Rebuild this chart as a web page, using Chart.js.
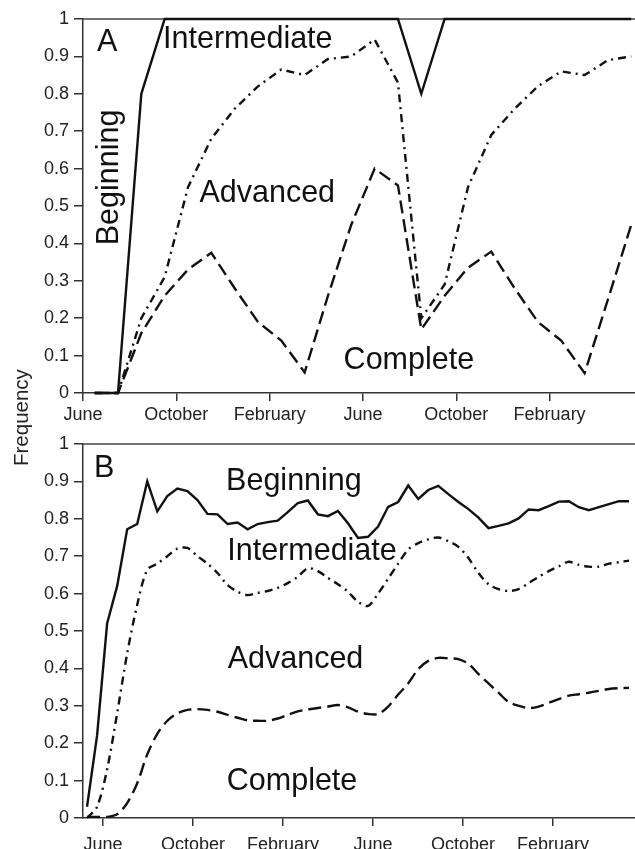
<!DOCTYPE html>
<html>
<head>
<meta charset="utf-8">
<script src="https://cdn.jsdelivr.net/npm/chart.js@4.4.0/dist/chart.umd.min.js"></script>
<style>
  body { margin: 0; background: #fff; }
  #wrap { position: relative; width: 635px; height: 849px; overflow: hidden; }
  canvas { position: absolute; left: 0; }
  #chartA { top: 0; }
  #chartB { top: 428px; }
  #freq {
    position: absolute; left: 0; top: 0;
    font: 20.5px "Liberation Sans", Arial, sans-serif; color: #222;
    line-height: 1; white-space: nowrap;
    transform-origin: 0 0;
    transform: translate(11px, 466px) rotate(-90deg);
  }
</style>
</head>
<body>
<div id="wrap">
  <canvas id="chartA" width="635" height="428"></canvas>
  <canvas id="chartB" width="635" height="421"></canvas>
  <div id="freq">Frequency</div>
</div>
<script>
// month ticks, counted in months from the first June
const tickMonths = [0, 4, 8, 12, 16, 20];
const tickLabels = ['June', 'October', 'February', 'June', 'October', 'February'];

// panel A: monthly values (mid-month)
const intermediateA = [0, 0, 0.8, 1, 1, 1, 1, 1, 1, 1, 1, 1, 1, 1, 0.8, 1, 1, 1, 1, 1, 1, 1, 1, 1];
const advancedA = [0, 0, 0.2, 0.31, 0.55, 0.68, 0.76, 0.82, 0.865, 0.85, 0.893, 0.9,
                   0.945, 0.83, 0.2, 0.29, 0.55, 0.69, 0.76, 0.82, 0.86, 0.85, 0.89, 0.9];
const completeA = [0, 0, 0.16, 0.26, 0.33, 0.375, 0.28, 0.19, 0.14, 0.055, 0.26, 0.45,
                   0.6, 0.555, 0.17, 0.26, 0.335, 0.378, 0.28, 0.19, 0.14, 0.053, 0.25, 0.45];

// panel B: fortnightly samples
const startB = -0.71;
const stepB = 0.446;
const intermediateB = [0.03, 0.22, 0.52, 0.62, 0.772, 0.786, 0.9, 0.82, 0.861, 0.881,
                       0.874, 0.85, 0.813, 0.812, 0.786, 0.79, 0.772, 0.786, 0.791, 0.795,
                       0.818, 0.842, 0.849, 0.812, 0.807, 0.821, 0.788, 0.749, 0.752, 0.779,
                       0.832, 0.845, 0.889, 0.853, 0.877, 0.888, 0.866, 0.845, 0.826, 0.803,
                       0.775, 0.781, 0.788, 0.801, 0.825, 0.823, 0.834, 0.846, 0.847, 0.831,
                       0.823, 0.831, 0.839, 0.847, 0.847];
const advancedB = [0, 0.03, 0.13, 0.28, 0.44, 0.57, 0.664, 0.68, 0.7, 0.72,
                   0.722, 0.7, 0.68, 0.655, 0.623, 0.605, 0.596, 0.602, 0.607, 0.615,
                   0.628, 0.645, 0.668, 0.66, 0.642, 0.625, 0.605, 0.578, 0.567, 0.6,
                   0.64, 0.68, 0.718, 0.735, 0.745, 0.75, 0.74, 0.725, 0.695, 0.655,
                   0.625, 0.612, 0.607, 0.612, 0.628, 0.645, 0.66, 0.673, 0.685, 0.677,
                   0.672, 0.672, 0.68, 0.684, 0.688];
const completeB = [0.003, 0.003, 0.003, 0.01, 0.04, 0.093, 0.17, 0.225, 0.26, 0.28,
                   0.289, 0.291, 0.289, 0.284, 0.276, 0.268, 0.261, 0.26, 0.26, 0.266,
                   0.276, 0.285, 0.29, 0.294, 0.298, 0.302, 0.296, 0.284, 0.278, 0.278,
                   0.298, 0.33, 0.36, 0.398, 0.42, 0.428, 0.427, 0.425, 0.412, 0.385,
                   0.36, 0.335, 0.31, 0.3, 0.294, 0.298, 0.308, 0.318, 0.327, 0.331,
                   0.335, 0.34, 0.345, 0.347, 0.348];

const stageNames = ['Beginning', 'Intermediate', 'Advanced', 'Complete'];

const ink = '#111';
Chart.defaults.font.family = '"Liberation Sans", Arial, sans-serif';

function toPoints(values, xOf){
    return values.map((v, i) => ({x: xOf(i), y: v}));
}

function lineSet(points, dash, tension){
    return {
        data: points,
        borderColor: ink,
        borderWidth: 2.4,
        borderDash: dash,
        pointRadius: 0,
        tension: tension,
        clip: false
    };
}

// thin frame line along the top of the plot area
const topFrame = {
    id: 'topFrame',
    beforeDatasetsDraw(chart){
        const a = chart.chartArea;
        const ctx = chart.ctx;
        ctx.save();
        ctx.strokeStyle = '#444';
        ctx.lineWidth = 1.5;
        ctx.beginPath();
        ctx.moveTo(a.left, a.top);
        ctx.lineTo(a.right, a.top);
        ctx.stroke();
        ctx.restore();
    }
};

// stage names and panel letter, placed in data units
const stageText = {
    id: 'stageText',
    afterDatasetsDraw(chart, args, opts){
        const ctx = chart.ctx;
        const xs = chart.scales.x, ys = chart.scales.y;
        ctx.save();
        ctx.fillStyle = ink;
        ctx.font = '30.5px "Liberation Sans", Arial, sans-serif';
        ctx.textAlign = 'left';
        ctx.textBaseline = 'alphabetic';
        opts.items.forEach(item => {
            const px = xs.getPixelForValue(item.x);
            const py = ys.getPixelForValue(item.y);
            ctx.save();
            ctx.translate(px, py);
            if(item.vertical){
                ctx.rotate(-Math.PI / 2);
            }
            ctx.fillText(item.text, 0, 0);
            ctx.restore();
        });
        ctx.restore();
    }
};

function createPanel(id, datasets, xMin, xMax, axisHeight, labelPad, items){
    const ctx = document.getElementById(id).getContext('2d');
    return new Chart(ctx, {
        type: 'line',
        data: { datasets: datasets },
        plugins: [topFrame, stageText],
        options: {
            responsive: false,
            animation: false,
            devicePixelRatio: 1,
            layout: { padding: { top: id === 'chartA' ? 19 : 16, left: 0, right: 0, bottom: 0 } },
            plugins: {
                legend: { display: false },
                tooltip: { enabled: false },
                stageText: { items: items }
            },
            scales: {
                x: {
                    type: 'linear',
                    min: xMin,
                    max: xMax,
                    afterBuildTicks: scale => {
                        scale.ticks = tickMonths.map(v => ({value: v}));
                    },
                    afterFit: scale => { scale.height = axisHeight; },
                    grid: {
                        drawOnChartArea: false,
                        color: '#333',
                        lineWidth: 1.5,
                        tickLength: 8
                    },
                    border: { color: '#333', width: 1.5 },
                    ticks: {
                        autoSkip: false,
                        maxRotation: 0,
                        padding: labelPad,
                        color: '#222',
                        font: { size: 18 },
                        callback: (v, i) => tickLabels[i]
                    }
                },
                y: {
                    min: 0,
                    max: 1,
                    afterFit: scale => { scale.width = 83; },
                    grid: {
                        drawOnChartArea: false,
                        color: '#333',
                        lineWidth: 1.5,
                        tickLength: 9
                    },
                    border: { color: '#333', width: 1.5 },
                    ticks: {
                        stepSize: 0.1,
                        padding: 5,
                        color: '#222',
                        font: { size: 18 },
                        callback: v => String(Math.round(v * 10) / 10)
                    }
                }
            }
        }
    });
}

const monthA = i => i + 0.5;
const fortnightB = i => startB + i * stepB;

createPanel('chartA', [
    lineSet(toPoints(intermediateA, monthA), [], 0),
    lineSet(toPoints(advancedA, monthA), [8, 5, 2, 5], 0),
    lineSet(toPoints(completeA, monthA), [13, 6], 0)
], 0, 23.66, 35, 3, [
    {text: 'A', x: 0.6, y: 0.915},
    {text: stageNames[1], x: 3.43, y: 0.922},
    {text: stageNames[0], x: 1.5, y: 0.395, vertical: true},
    {text: stageNames[2], x: 4.99, y: 0.512},
    {text: stageNames[3], x: 11.17, y: 0.063}
]);

createPanel('chartB', [
    lineSet(toPoints(intermediateB, fortnightB), [], 0),
    lineSet(toPoints(advancedB, fortnightB), [8, 5, 2, 5], 0.3),
    lineSet(toPoints(completeB, fortnightB), [13, 6], 0.3)
], -0.889, 23.64, 31, 8, [
    {text: 'B', x: -0.4, y: 0.9125},
    {text: stageNames[0], x: 5.47, y: 0.877},
    {text: stageNames[1], x: 5.52, y: 0.691},
    {text: stageNames[2], x: 5.54, y: 0.40},
    {text: stageNames[3], x: 5.5, y: 0.076}
]);
</script>
</body>
</html>
